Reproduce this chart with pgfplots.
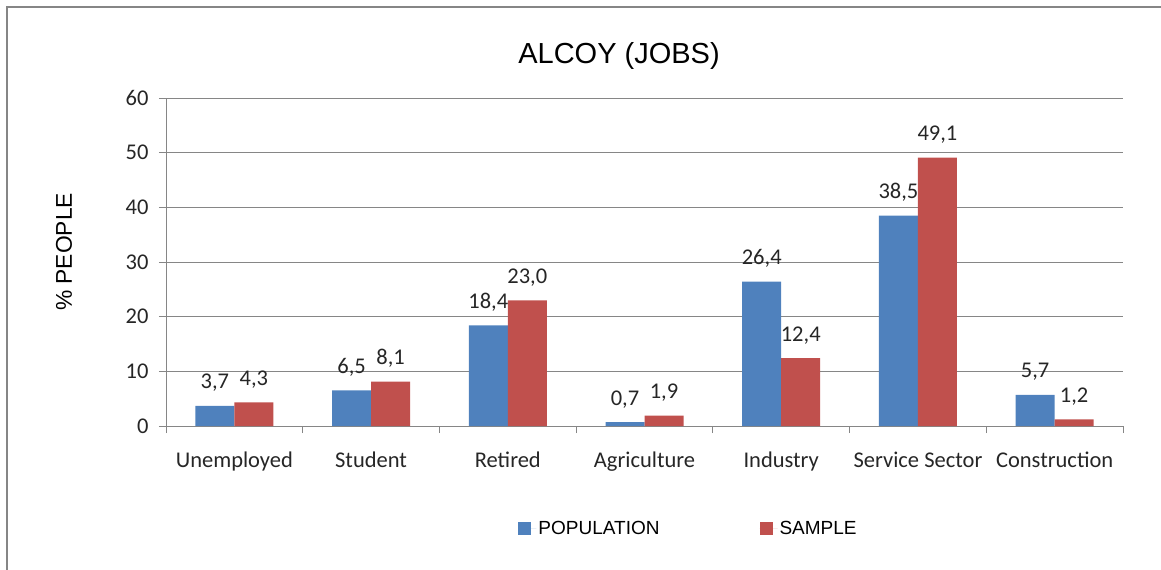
\documentclass[border=0pt]{standalone}
\usepackage{fontspec}
\setmainfont{Carlito}
\newfontfamily\arialf{Liberation Sans}
\usepackage{pgfplots}
\pgfplotsset{compat=1.18}
\definecolor{popblue}{RGB}{79,129,189}
\definecolor{samplered}{RGB}{192,80,77}
\definecolor{gridgray}{RGB}{134,134,134}

\begin{document}
\begin{tikzpicture}
\useasboundingbox (0,0) rectangle (1161bp,570bp);
\draw[gridgray, line width=1.2bp] (7bp,0) -- (7bp,563bp) -- (1161bp,563bp);
\begin{axis}[
  at={(166bp,144bp)}, anchor=south west,
  scale only axis, width=957bp, height=328bp,
  ybar=0pt, bar width=39bp,
  xmin=-0.5, xmax=6.5, ymin=0, ymax=60,
  ytick={0,10,...,60},
  xtick={-0.5,0.5,...,6.5},
  xticklabels={},
  extra x ticks={0,1,...,6},
  extra x tick labels={Unemployed,Student,Retired,Agriculture,Industry,Service Sector,Construction},
  extra x tick style={major tick length=0pt, grid=none},
  axis lines*=left,
  axis line style={gridgray, line width=1bp},
  tick align=outside,
  major tick length=7bp,
  tick style={gridgray, line width=1bp},
  ymajorgrids,
  grid style={gridgray, line width=1bp},
  /pgf/number format/assume math mode=true,
  tick label style={font=\fontsize{22.5bp}{27bp}\selectfont, text=black!85},
  x tick label style={anchor=base, yshift=-41bp},
  y tick label style={xshift=-7bp},
  nodes near coords,
  nodes near coords style={font=\fontsize{22.5bp}{27bp}\selectfont, text=black!85,
    anchor=south, inner sep=0pt, yshift=14bp,
    /pgf/number format/.cd, fixed, fixed zerofill, precision=1, use comma, assume math mode=true},
  clip=false,
  legend columns=2,
  legend style={at={(axis description cs:0.546,-0.314)}, anchor=center, draw=none,
    font=\arialf\fontsize{19bp}{22bp}\selectfont,
    /tikz/every even column/.append style={column sep=98bp}},
  legend image code/.code={\path (0bp,0bp) -- (18bp,0bp);
    \fill[#1] (0bp,-6.5bp) rectangle (13bp,6.5bp);},
]
\addplot[fill=popblue, draw=none]
  coordinates {(0,3.7)(1,6.5)(2,18.4)(3,0.7)(4,26.4)(5,38.5)(6,5.7)};
\addplot[fill=samplered, draw=none]
  coordinates {(0,4.3)(1,8.1)(2,23.0)(3,1.9)(4,12.4)(5,49.1)(6,1.2)};
\legend{POPULATION, SAMPLE}
\end{axis}
\node[font=\arialf\fontsize{29bp}{33bp}\selectfont] at (619bp,513.5bp) {ALCOY (JOBS)};
\node[rotate=90, font=\arialf\fontsize{22.8bp}{27bp}\selectfont] at (64bp,318bp) {\% PEOPLE};
\end{tikzpicture}
\end{document}
